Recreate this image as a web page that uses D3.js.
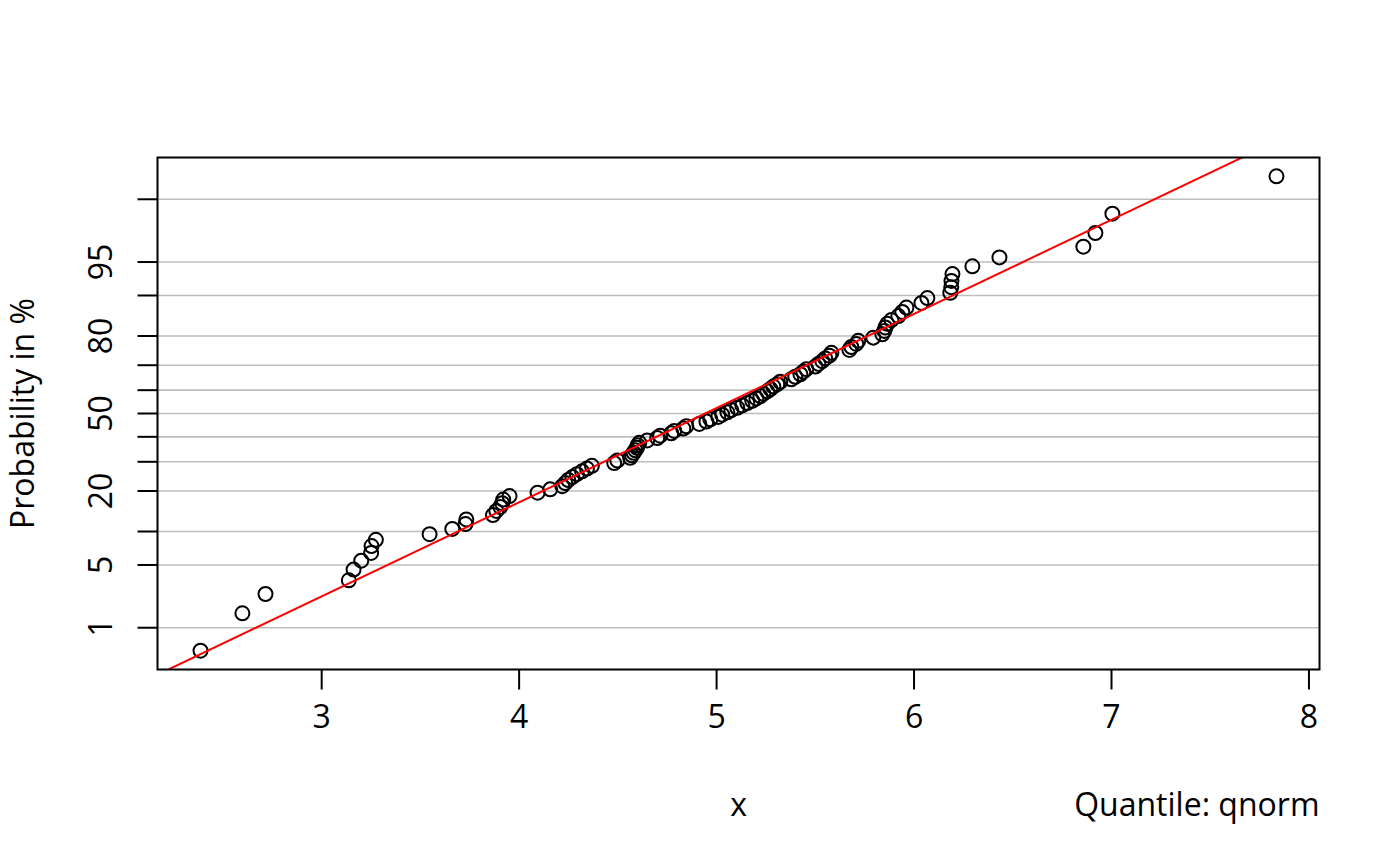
<!DOCTYPE html>
<html>
<head>
<meta charset="utf-8">
<script src="https://cdn.jsdelivr.net/npm/d3@7"></script>
<style>
  body { margin: 0; background: #fff; }
  text { font-family: "Open Sans", "Noto Sans", sans-serif; fill: #000; }
</style>
</head>
<body>
<div class="prob-plot"></div>
<script>
// Sorted sample values, one per point
const xValues = [
  2.389, 2.601, 2.718, 3.140, 3.164, 3.203, 3.253, 3.255, 3.277, 3.549,
  3.664, 3.731, 3.735, 3.870, 3.887, 3.907, 3.917, 3.922, 3.954, 4.096,
  4.160, 4.221, 4.236, 4.251, 4.272, 4.295, 4.321, 4.346, 4.371, 4.484,
  4.500, 4.565, 4.574, 4.582, 4.591, 4.599, 4.603, 4.611, 4.651, 4.702,
  4.717, 4.773, 4.788, 4.834, 4.849, 4.915, 4.951, 4.971, 5.011, 5.031,
  5.057, 5.077, 5.107, 5.133, 5.158, 5.183, 5.204, 5.224, 5.239, 5.259,
  5.275, 5.290, 5.310, 5.325, 5.381, 5.401, 5.427, 5.442, 5.457, 5.503,
  5.518, 5.538, 5.553, 5.574, 5.584, 5.675, 5.685, 5.710, 5.720, 5.796,
  5.842, 5.852, 5.857, 5.867, 5.888, 5.923, 5.943, 5.964, 6.040, 6.070,
  6.186, 6.191, 6.192, 6.197, 6.298, 6.435, 6.860, 6.921, 7.007, 7.838
];

// Probability axis ticks (percent) and the ones that get a label
const probTicks = [1, 5, 10, 20, 30, 40, 50, 60, 70, 80, 90, 95, 99];
const probLabels = [1, 5, 20, 50, 80, 95];

// x axis ticks
const xTicks = [3, 4, 5, 6, 7, 8];

// Fitted normal line (mean, sd)
const fitMean = 4.945;
const fitSd = 0.978;

// Inverse normal CDF (Acklam's approximation)
function qnorm(p) {
    const a = [-39.69683028665376, 220.9460984245205, -275.9285104469687, 138.3577518672690, -30.66479806614716, 2.506628274631000];
    const b = [-54.47609879822406, 161.5858368580409, -155.6989798598866, 66.80131188771972, -13.28068155288572];
    const c = [-0.007784894002430293, -0.3223964580411365, -2.400758277161838, -2.549732539343734, 4.374664141464968, 2.938163982698783];
    const d = [0.007784695709041462, 0.3224671290700398, 2.445134137142996, 3.754408661907416];
    const pLow = 0.02425, pHigh = 1 - pLow;
    let q, r;
    if (p < pLow) {
        q = Math.sqrt(-2 * Math.log(p));
        return (((((c[0] * q + c[1]) * q + c[2]) * q + c[3]) * q + c[4]) * q + c[5]) /
               ((((d[0] * q + d[1]) * q + d[2]) * q + d[3]) * q + 1);
    } else if (p <= pHigh) {
        q = p - 0.5;
        r = q * q;
        return (((((a[0] * r + a[1]) * r + a[2]) * r + a[3]) * r + a[4]) * r + a[5]) * q /
               (((((b[0] * r + b[1]) * r + b[2]) * r + b[3]) * r + b[4]) * r + 1);
    } else {
        q = Math.sqrt(-2 * Math.log(1 - p));
        return -(((((c[0] * q + c[1]) * q + c[2]) * q + c[3]) * q + c[4]) * q + c[5]) /
                ((((d[0] * q + d[1]) * q + d[2]) * q + d[3]) * q + 1);
    }
}

const width = 1400;
const height = 866;
const plot = { left: 157.5, right: 1319.5, top: 157.5, bottom: 669.5 };
const fontSize = 32;

// Plotting positions, like ppoints(n)
const n = xValues.length;
const points = xValues.map((v, i) => ({ x: v, z: qnorm((i + 1 - 0.5) / n) }));

// x range padded by 4% as R does
const [xMin, xMax] = d3.extent(xValues);
const pad = (xMax - xMin) * 0.04;
const xScale = d3.scaleLinear()
    .domain([xMin - pad, xMax + pad])
    .range([plot.left, plot.right]);

const zLimit = 2.78;
const yScale = d3.scaleLinear()
    .domain([-zLimit, zLimit])
    .range([plot.bottom, plot.top]);

const svg = d3.select('.prob-plot').append('svg')
    .attr('width', width)
    .attr('height', height);

svg.append('defs').append('clipPath')
    .attr('id', 'plot-clip')
    .append('rect')
    .attr('x', plot.left)
    .attr('y', plot.top)
    .attr('width', plot.right - plot.left)
    .attr('height', plot.bottom - plot.top);

// Horizontal grid lines at each probability tick
svg.append('g')
    .selectAll('line')
    .data(probTicks)
    .enter().append('line')
    .attr('x1', plot.left)
    .attr('x2', plot.right)
    .attr('y1', d => yScale(qnorm(d / 100)))
    .attr('y2', d => yScale(qnorm(d / 100)))
    .attr('stroke', '#bebebe')
    .attr('stroke-width', 1.6);

// Points
svg.append('g')
    .selectAll('circle')
    .data(points)
    .enter().append('circle')
    .attr('cx', d => xScale(d.x))
    .attr('cy', d => yScale(d.z))
    .attr('r', 7)
    .attr('fill', 'none')
    .attr('stroke', '#000')
    .attr('stroke-width', 2);

// Fitted line, clipped to the plot box
const xDomain = xScale.domain();
svg.append('line')
    .attr('clip-path', 'url(#plot-clip)')
    .attr('x1', xScale(xDomain[0] - 1))
    .attr('y1', yScale((xDomain[0] - 1 - fitMean) / fitSd))
    .attr('x2', xScale(xDomain[1] + 1))
    .attr('y2', yScale((xDomain[1] + 1 - fitMean) / fitSd))
    .attr('stroke', '#ff0000')
    .attr('stroke-width', 2);

// Box
svg.append('rect')
    .attr('x', plot.left)
    .attr('y', plot.top)
    .attr('width', plot.right - plot.left)
    .attr('height', plot.bottom - plot.top)
    .attr('fill', 'none')
    .attr('stroke', '#000')
    .attr('stroke-width', 2);

// x axis
const xAxis = d3.axisBottom(xScale)
    .tickValues(xTicks)
    .tickSize(20)
    .tickPadding(16)
    .tickFormat(d3.format('d'));

const xAxisG = svg.append('g')
    .attr('transform', `translate(0, ${plot.bottom})`)
    .call(xAxis);
xAxisG.select('.domain').remove();
xAxisG.selectAll('.tick line').attr('stroke', '#000').attr('stroke-width', 2);
xAxisG.selectAll('.tick text')
    .attr('font-size', fontSize)
    .attr('font-family', '"Open Sans", sans-serif')
    .attr('fill', '#000');

// y axis: ticks on a normal-quantile scale, labels rotated like R
const yAxisG = svg.append('g');
yAxisG.selectAll('line')
    .data(probTicks)
    .enter().append('line')
    .attr('x1', plot.left - 20)
    .attr('x2', plot.left)
    .attr('y1', d => yScale(qnorm(d / 100)))
    .attr('y2', d => yScale(qnorm(d / 100)))
    .attr('stroke', '#000')
    .attr('stroke-width', 2);

yAxisG.selectAll('text')
    .data(probLabels)
    .enter().append('text')
    .attr('transform', d => `translate(112, ${yScale(qnorm(d / 100))}) rotate(-90)`)
    .attr('text-anchor', 'middle')
    .attr('font-size', fontSize)
    .text(d => d);

// Axis titles
svg.append('text')
    .attr('x', (plot.left + plot.right) / 2)
    .attr('y', 816)
    .attr('text-anchor', 'middle')
    .attr('font-size', fontSize)
    .text('x');

svg.append('text')
    .attr('x', plot.right)
    .attr('y', 816)
    .attr('text-anchor', 'end')
    .attr('font-size', fontSize)
    .text('Quantile: qnorm');

svg.append('text')
    .attr('transform', `translate(34, ${(plot.top + plot.bottom) / 2}) rotate(-90)`)
    .attr('text-anchor', 'middle')
    .attr('font-size', fontSize)
    .text('Probability in %');
</script>
</body>
</html>
